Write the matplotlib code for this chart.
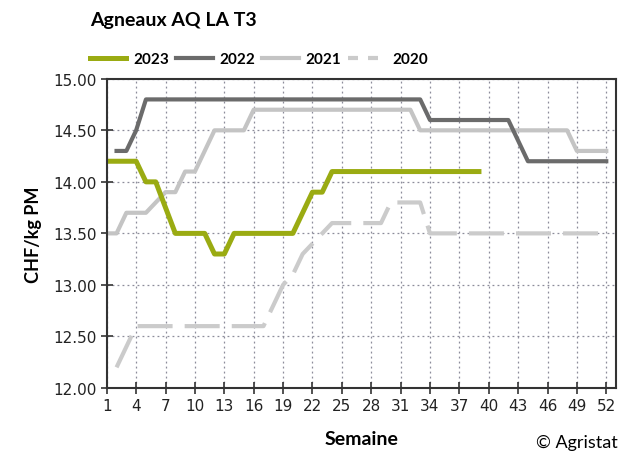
import numpy as np
import matplotlib
matplotlib.use("Agg")
import matplotlib.pyplot as plt
from matplotlib.lines import Line2D

# weekly prices CHF/kg PM
weeks_2023 = list(range(1, 40))
vals_2023 = [14.2, 14.2, 14.2, 14.2, 14.0, 14.0, 13.75, 13.5, 13.5, 13.5,
             13.5, 13.3, 13.3, 13.5, 13.5, 13.5, 13.5, 13.5, 13.5, 13.5,
             13.7, 13.9, 13.9, 14.1] + [14.1] * 15

weeks_2022 = list(range(2, 53))
vals_2022 = [14.3, 14.3, 14.5] + [14.8] * 29 + [14.6] * 9 + [14.4] + [14.2] * 9

weeks_2021 = list(range(1, 53))
vals_2021 = [13.5, 13.5, 13.7, 13.7, 13.7, 13.8, 13.9, 13.9, 14.1, 14.1,
             14.3, 14.5, 14.5, 14.5, 14.5] + [14.7] * 17 + [14.5] * 16 + [14.3] * 4

weeks_2020 = list(range(2, 53))
vals_2020 = [12.2, 12.4] + [12.6] * 14 + [12.8, 13.0, 13.1, 13.3, 13.4, 13.5] \
    + [13.6] * 6 + [13.8] * 4 + [13.5] * 19

xticks = list(range(1, 53, 3))
yticks = [12.0, 12.5, 13.0, 13.5, 14.0, 14.5, 15.0]

c23, c22, c21, c20 = "#9aab12", "#6b6b6b", "#c4c4c4", "#cbcbcb"
lw = 3.0

fig = plt.figure(figsize=(6.28, 4.56), dpi=100)
ax = fig.add_axes([0.170, 0.147, 0.811, 0.678])

ax.plot(weeks_2020, vals_2020, color=c20, lw=lw, dashes=(8.4, 2.9),
        solid_capstyle="butt", dash_capstyle="butt")
ax.plot(weeks_2021, vals_2021, color=c21, lw=lw)
ax.plot(weeks_2022, vals_2022, color=c22, lw=lw)
ax.plot(weeks_2023, vals_2023, color=c23, lw=lw + 0.6)

ax.set_xlim(1, 53)
ax.set_ylim(12, 15)
ax.set_xticks(xticks)
ax.set_yticks(yticks)
ax.set_yticklabels([f"{v:.2f}" for v in yticks])
ax.tick_params(direction="inout", length=8, width=1.2, colors="#333333",
               labelsize=11, labelcolor="#222222")
ax.grid(True, linestyle=(0, (1.5, 2.5)), color="#8c8c9a", lw=0.9)
for s in ax.spines.values():
    s.set_color("#333333")
    s.set_linewidth(1.5)

ax.set_ylabel("CHF/kg PM", fontfamily="Lato", fontweight="bold", fontsize=13,
              labelpad=8)
ax.set_xlabel("Semaine", fontfamily="Lato", fontweight="bold", fontsize=14,
              labelpad=12)

fig.text(0.143, 0.955, "Agneaux AQ LA T3", fontfamily="Lato", fontweight="bold",
         fontsize=14, va="center", ha="left")
fig.text(0.983, 0.028, "© Agristat", fontfamily="Lato", fontsize=13,
         ha="right", va="center")

handles = [
    Line2D([], [], color=c23, lw=lw + 0.6),
    Line2D([], [], color=c22, lw=lw),
    Line2D([], [], color=c21, lw=lw),
    Line2D([], [], color=c20, lw=lw, dashes=(2.4, 2.4)),
]
fig.legend(handles, ["2023", "2022", "2021", "2020"], ncol=4, frameon=False,
           loc="center left", bbox_to_anchor=(0.143, 0.868), borderpad=0,
           borderaxespad=0,
           prop={"family": "Lato", "weight": "bold", "size": 11},
           handlelength=2.4, handletextpad=0.45, columnspacing=0.45)

fig.savefig("out.png", dpi=100)
